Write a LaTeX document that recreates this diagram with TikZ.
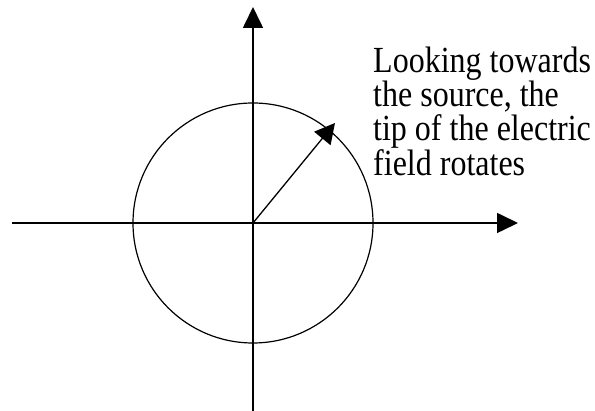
\documentclass[tikz,border=0pt]{standalone}
\usepackage{fontspec}
\setmainfont{Liberation Serif}
\usetikzlibrary{arrows.meta}

\begin{document}
\begin{tikzpicture}[x=1pt, y=1pt,
    axis/.style={line width=1.6pt, -{Triangle[length=21pt, width=20pt]}},
    field/.style={line width=1.3pt, -{Triangle[length=20pt, width=21pt]}}]

    \useasboundingbox (0,0) rectangle (595,411);

    \coordinate (O) at (253,188);
    \coordinate (xl) at (12,188);
    \coordinate (xr) at (518,188);
    \coordinate (yb) at (253,0);
    \coordinate (yt) at (253,404);
    \coordinate (tip) at (335,288);

    \draw[axis] (xl) -- (xr);
    \draw[axis] (yb) -- (yt);
    \draw[line width=1.2pt] (O) circle (120);
    \draw[field] (O) -- (tip);

    \node[anchor=north west, inner sep=0pt, align=left, yscale=1.15, transform shape,
          font=\fontsize{32}{29}\selectfont] (note) at (373,364.4)
        {Looking towards\\the source, the\\tip of the electric\\field rotates};

\end{tikzpicture}
\end{document}
